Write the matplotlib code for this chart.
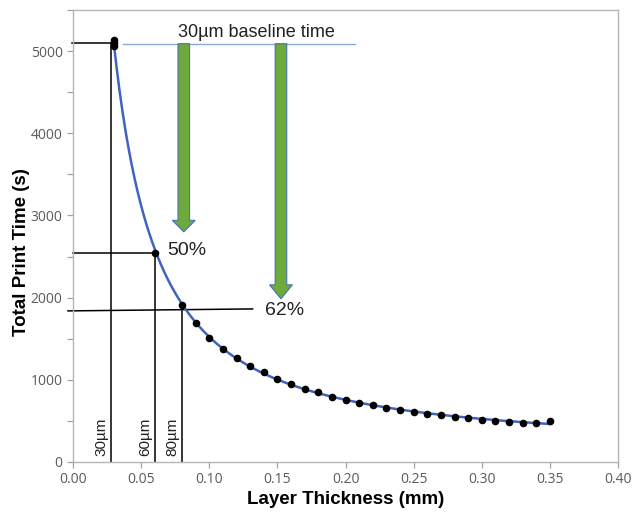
import numpy as np
import matplotlib
matplotlib.use("Agg")
import matplotlib.pyplot as plt
from matplotlib.patches import FancyArrow
from matplotlib.ticker import MultipleLocator

# ---- data ----
thickness = [0.03, 0.03, 0.03, 0.06, 0.08, 0.09, 0.10, 0.11, 0.12, 0.13, 0.14, 0.15,
             0.16, 0.17, 0.18, 0.19, 0.20, 0.21, 0.22, 0.23, 0.24, 0.25, 0.26,
             0.27, 0.28, 0.29, 0.30, 0.31, 0.32, 0.33, 0.34, 0.35]
print_time = [5140, 5100, 5060, 2546, 1910, 1693, 1510, 1376, 1267, 1169, 1096, 1011,
              950, 889, 853, 792, 755, 719, 694, 658, 633, 609, 585,
              572, 548, 536, 512, 499, 487, 475, 475, 499]
baseline_time = 5100
half_time = 2546
reduced_time = 1850
marker_thickness = [0.028, 0.060, 0.080]
marker_labels = ["30µm", "60µm", "80µm"]
marker_tops = [5100, 2546, 1910]
xticks = [0.00, 0.05, 0.10, 0.15, 0.20, 0.25, 0.30, 0.35, 0.40]
xticklabels = ["0.00", "0.05", "0.10", "0.15", "0.20", "0.25", "0.30", "0.35", "0.40"]
yticks = [0, 1000, 2000, 3000, 4000, 5000]

plt.rcParams['font.family'] = ['Liberation Sans', 'DejaVu Sans']

fig = plt.figure(figsize=(6.32, 5.19), dpi=100)
ax = fig.add_axes([0.1155, 0.110, 0.978 - 0.1155, 0.9807 - 0.110])

x = np.array(thickness)
y = np.array(print_time)

# smooth fit (log-log cubic)
coef = np.polyfit(np.log(x), np.log(y), 3)
xs = np.linspace(0.03, 0.35, 300)
ys = np.exp(np.polyval(coef, np.log(xs)))
ax.plot(xs, ys, color='#3F63BF', lw=1.8, zorder=3)
ax.scatter(x, y, s=20, color='black', zorder=4)

# reference lines
lk = dict(color='black', lw=1.1, zorder=2, clip_on=False)
ax.plot([-0.001, marker_thickness[0]], [baseline_time, baseline_time], **lk)
ax.plot([0.0, marker_thickness[1]], [half_time, half_time], **lk)
ax.plot([-0.0037, 0.1318], [reduced_time - 12, reduced_time + 12], **lk)
for xv, top, lab in zip(marker_thickness, marker_tops, marker_labels):
    ax.plot([xv, xv], [0, top], **lk)
    ax.text(xv - 0.0068, 305, lab, rotation=90, ha='center', va='center',
            fontsize=11, color='#222222')

ax.plot([0.037, 0.207], [5090, 5090], color='#8EA9DB', lw=1.0, zorder=2)
ax.text(0.1347, 5225, "30µm baseline time", ha='center', va='center',
        fontsize=13, color='#222222')

# green arrows
for xc, tip, hl in [(0.0813, 2800, 140), (0.1526, 1985, 170)]:
    arr = FancyArrow(xc, 5090, 0, tip - 5090, width=0.0085, head_width=0.0168,
                     head_length=hl, length_includes_head=True,
                     facecolor='#6DAA3C', edgecolor='#4A6FB5', lw=0.8, zorder=3)
    ax.add_patch(arr)

ax.text(0.0688, 2570, "50%", ha='left', va='center', fontsize=14, color='#222222')
ax.text(0.1406, 1840, "62%", ha='left', va='center', fontsize=14, color='#222222')

ax.set_xlim(0, 0.40)
ax.set_ylim(0, 5500)
ax.set_xticks(xticks)
ax.set_xticklabels(xticklabels)
ax.set_yticks(yticks)
ax.yaxis.set_minor_locator(MultipleLocator(500))

for s in ax.spines.values():
    s.set_color('#B5B5B5')
    s.set_linewidth(1.0)
ax.tick_params(axis='both', which='both', direction='out', colors='#A0A0A0',
               labelcolor='#5A5A5A', labelsize=10, length=4, width=0.9)
for lab in ax.get_xticklabels() + ax.get_yticklabels():
    lab.set_family(['Open Sans', 'DejaVu Sans'])

ax.set_xlabel("Layer Thickness (mm)", fontsize=13.5, fontweight='bold', labelpad=3)
ax.set_ylabel("Total Print Time (s)", fontsize=13.5, fontweight='bold')
ax.yaxis.set_label_coords(-0.078, 0.465)

fig.savefig("out.png", dpi=100)
